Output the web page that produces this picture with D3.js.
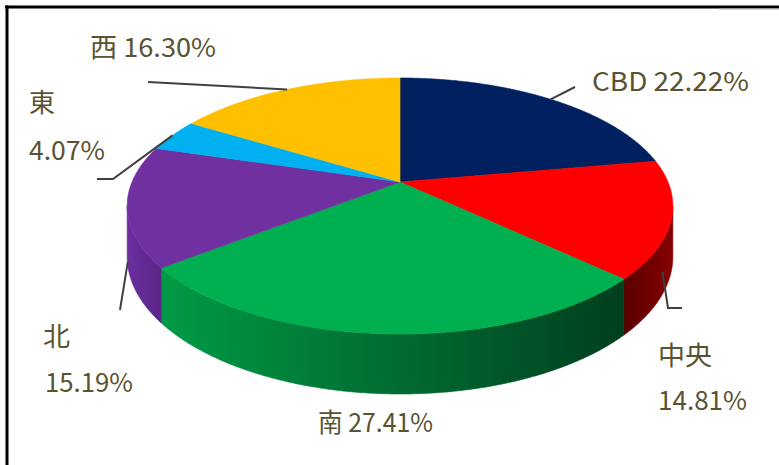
<!DOCTYPE html>
<html>
<head>
<meta charset="utf-8">
<script src="https://cdn.jsdelivr.net/npm/d3@7"></script>
<style>
  html, body { margin: 0; padding: 0; background: #fff; }
  svg { display: block; }
  text { font-family: "Noto Sans CJK JP", "Noto Sans", sans-serif; fill: #595331; }
</style>
</head>
<body>
<svg id="chart" width="779" height="465"></svg>
<script>
// Slice data, clockwise from 12 o'clock
const categories = ["CBD", "中央", "南", "北", "東", "西"];
const shares = [22.22, 14.81, 27.41, 15.19, 4.07, 16.30];
const topColors = ["#002060", "#ff0000", "#00b050", "#7030a0", "#00b0f0", "#ffc000"];
// side-face shading: [start colour, end colour] across the visible wall
const sideColors = [
  ["#001538", "#001538"],
  ["#5a0000", "#860000"],
  ["#009a46", "#003f1e"],
  ["#6c2e9e", "#5a2686"],
  ["#0080b0", "#0080b0"],
  ["#b08400", "#b08400"]
];

const svg = d3.select("#chart");
const W = 779, H = 465;

// frame
svg.append("line").attr("x1", 5).attr("x2", W).attr("y1", 7).attr("y2", 7)
  .attr("stroke", "#000").attr("stroke-width", 3);
svg.append("line").attr("x1", W - 60).attr("x2", W).attr("y1", 9).attr("y2", 9)
  .attr("stroke", "#aaa").attr("stroke-width", 1);
svg.append("line").attr("x1", 7).attr("x2", 7).attr("y1", 5.5).attr("y2", H)
  .attr("stroke", "#000").attr("stroke-width", 3);

// tilted-disc perspective projection
const CX = 400, CY = 182;      // projected centre of the top face
const A = 268, B = 123.5;      // horizontal / depth scale
const K = 0.1875;              // perspective strength
const T = 48.75;               // wall thickness
function proj(theta, drop = 0) {
  const X = Math.sin(theta), Z = Math.cos(theta);
  const w = 1 + K * Z;
  return [CX + A * X / w, CY - B * Z / w + drop / w];
}
// silhouette angles (leftmost / rightmost points of the rim)
const thR = Math.acos(-K), thL = 2 * Math.PI - Math.acos(-K);

const pie = d3.pie().sort(null).value(d => d).startAngle(0).endAngle(2 * Math.PI);
const arcs = pie(shares);

const line = d3.line();
function sample(a0, a1, drop) {
  const n = Math.max(2, Math.ceil(Math.abs(a1 - a0) / (Math.PI / 360)));
  return d3.range(n + 1).map(i => proj(a0 + (a1 - a0) * i / n, drop));
}

const defs = svg.append("defs");
const gWalls = svg.append("g");
const gTops = svg.append("g");

arcs.forEach((d, i) => {
  const s = Math.max(d.startAngle, thR), e = Math.min(d.endAngle, thL);
  if (e > s) {
    const topPts = sample(s, e, 0);
    const botPts = sample(e, s, T);
    const xs = topPts.map(p => p[0]);
    const gid = "wall" + i;
    const grad = defs.append("linearGradient").attr("id", gid)
      .attr("gradientUnits", "userSpaceOnUse")
      .attr("x1", d3.min(xs)).attr("x2", d3.max(xs)).attr("y1", 0).attr("y2", 0);
    grad.append("stop").attr("offset", 0).attr("stop-color", sideColors[i][0]);
    grad.append("stop").attr("offset", 1).attr("stop-color", sideColors[i][1]);
    gWalls.append("path")
      .attr("d", line(topPts.concat(botPts)) + "Z")
      .attr("fill", `url(#${gid})`)
      .attr("stroke", `url(#${gid})`).attr("stroke-width", 0.6);
  }
  const pts = [[CX, CY]].concat(sample(d.startAngle, d.endAngle, 0));
  gTops.append("path")
    .attr("d", line(pts) + "Z")
    .attr("fill", topColors[i])
    .attr("stroke", topColors[i]).attr("stroke-width", 0.6);
});

// labels and leader lines
const fmt = v => v.toFixed(2) + "%";
const labelLayout = [
  { lines: [{ text: c => c + " " + fmt(shares[0]), x: 592, y: 91, len: 157 }],
    dAngle: 0, depth: 0, leader: [[575, 87]] },
  { lines: [{ text: c => c, x: 658, y: 365, len: 54 }, { text: () => fmt(shares[1]), x: 658, y: 410, len: 89 }],
    dAngle: 0.163, depth: 0.58, leader: [[668, 308], [682, 308]] },
  { lines: [{ text: c => c + " " + fmt(shares[2]), x: 318, y: 432, len: 115 }],
    dAngle: null, leader: [] },
  { lines: [{ text: c => c, x: 43, y: 346, len: 27 }, { text: () => fmt(shares[3]), x: 45, y: 392, len: 88 }],
    dAngle: -0.07, depth: 0.92, leader: [[120, 310]] },
  { lines: [{ text: c => c, x: 29, y: 112, len: 26 }, { text: () => fmt(shares[4]), x: 29, y: 160, len: 76 }],
    dAngle: 0, depth: 0, leader: [[113, 179], [97, 179]] },
  { lines: [{ text: c => c + " " + fmt(shares[5]), x: 90, y: 57, len: 126 }],
    dAngle: 0, depth: 0, leader: [[148, 82]] }
];

const gLabels = svg.append("g");
arcs.forEach((d, i) => {
  const L = labelLayout[i];
  if (L.dAngle !== null && L.leader.length) {
    const mid = (d.startAngle + d.endAngle) / 2 + L.dAngle;
    const start = proj(mid, L.depth * T);
    gLabels.append("path")
      .attr("d", line([start].concat(L.leader)))
      .attr("fill", "none").attr("stroke", "#404040").attr("stroke-width", 2);
  }
  L.lines.forEach(l => {
    gLabels.append("text")
      .attr("x", l.x).attr("y", l.y)
      .attr("font-size", 26)
      .attr("textLength", l.len).attr("lengthAdjust", "spacingAndGlyphs")
      .text(l.text(categories[i]));
  });
});
</script>
</body>
</html>
